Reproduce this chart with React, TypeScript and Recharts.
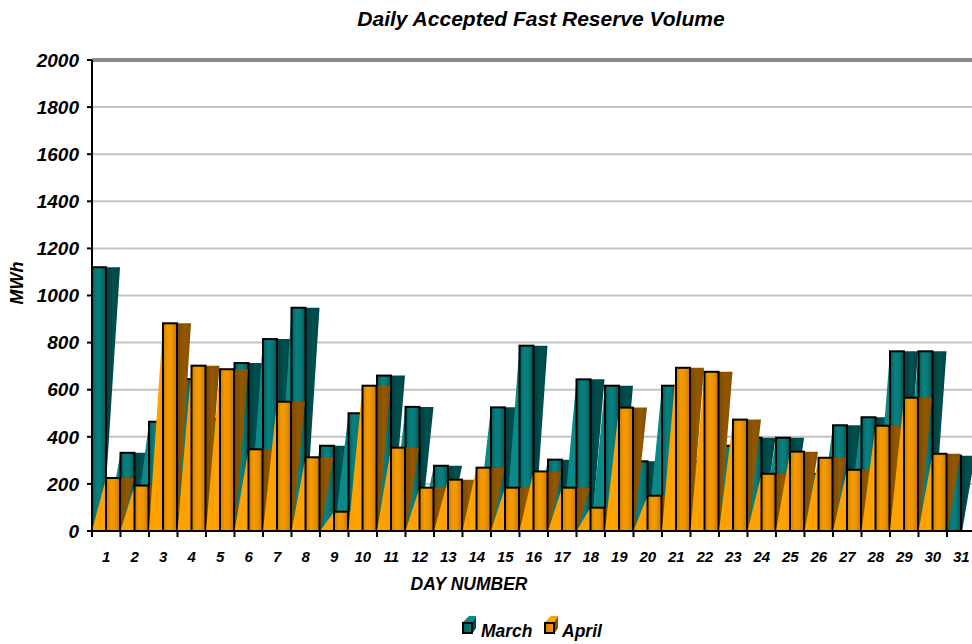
import React from 'react';
import { BarChart, Bar, XAxis, YAxis, CartesianGrid, ReferenceLine } from 'recharts';

const days = [1, 2, 3, 4, 5, 6, 7, 8, 9, 10, 11, 12, 13, 14, 15, 16, 17, 18, 19, 20, 21, 22, 23, 24, 25, 26, 27, 28, 29, 30, 31];
const marchValues = [1120, 332, 464, 645, 475, 713, 815, 948, 362, 500, 660, 527, 277, 0, 525, 787, 303, 644, 617, 296, 617, 297, 362, 396, 396, 243, 449, 483, 763, 763, 320];
const aprilValues: (number | null)[] = [225, 193, 882, 702, 687, 347, 549, 313, 82, 617, 354, 184, 218, 269, 184, 253, 184, 99, 524, 150, 693, 676, 473, 243, 337, 311, 260, 447, 566, 328, null];
const yTicks = [0, 200, 400, 600, 800, 1000, 1200, 1400, 1600, 1800, 2000];

const data = days.map((d, i) => ({ day: d, March: marchValues[i], April: aprilValues[i] }));

const FONT = 'Arial, "Liberation Sans", Helvetica, sans-serif';
const PLOT_LEFT = 92;
const CHART_W = 1000;
const CHART_H = 644;
const BAND_HALF = 14.25;

type Palette = { front: string; side: string; light: string };
const TEAL: Palette = { front: 'url(#tealFront)', side: 'url(#tealSide)', light: '#0a8989' };
const ORANGE: Palette = { front: 'url(#orangeFront)', side: 'url(#orangeSide)', light: '#ffa200' };

function make3D(p: Palette) {
  return (props: any) => {
    const { x, y, width, height } = props;
    if (height == null || !(height > 0.5) || x == null) return <g />;
    const w = width;
    const x0 = x;
    const x1 = x + w;
    const yt = y;
    const yb = y + height;
    const startX = x0 - w;
    const lx = Math.max(startX, PLOT_LEFT);
    const yAtLx = yb - ((lx - startX) / w) * (yb - yt);
    const lightPts = `${lx},${yb} ${lx},${yAtLx} ${x0},${yt} ${x0},${yb}`;
    const reach = Math.min(height, 200);
    const sidePts = `${x1},${yt} ${x1 + w},${yt} ${x1 + w * 0.08},${yt + reach} ${x1},${yt + reach} ${x1},${yb}`;
    return (
      <g>
        <polygon points={lightPts} fill={p.light} />
        <polygon points={sidePts} fill={p.side} />
        <rect x={x0} y={yt} width={w} height={height} fill={p.front} stroke="#000" strokeWidth={2} />
      </g>
    );
  };
}

function XTick(props: any) {
  const { x, y, payload } = props;
  const half = payload && payload.offset ? payload.offset : BAND_HALF;
  return (
    <g>
      <line x1={x - half} x2={x - half} y1={y} y2={y + 6} stroke="#000" strokeWidth={2} />
      <text x={x} y={y + 31} textAnchor="middle" fontSize={15} fontWeight="bold" fontStyle="italic" fontFamily={FONT} fill="#000">
        {payload.value}
      </text>
    </g>
  );
}

function LegendIcon({ x, y, front, side, light }: { x: number; y: number; front: string; side: string; light: string }) {
  return (
    <g>
      <polygon points={`${x},${y + 7} ${x + 7},${y} ${x + 14},${y} ${x + 10},${y + 7}`} fill={light} />
      <polygon points={`${x + 10},${y + 7} ${x + 14},${y} ${x + 14},${y + 12} ${x + 10},${y + 18}`} fill={side} />
      <rect x={x + 1} y={y + 7} width={9} height={10} fill={front} stroke="#000" strokeWidth={2} />
    </g>
  );
}

export default function App() {
  return (
    <div style={{ position: 'absolute', left: 0, top: 0, width: 972, height: 644, overflow: 'hidden', background: '#fff' }}>
      <BarChart
        width={CHART_W}
        height={CHART_H}
        data={data}
        margin={{ top: 60, right: 24.5, bottom: 0, left: 0 }}
        barCategoryGap={0}
        barGap={0}
      >
        <defs>
          <linearGradient id="tealFront" x1="0" y1="0" x2="1" y2="0">
            <stop offset="0" stopColor="#005c5c" />
            <stop offset="0.35" stopColor="#0a8080" />
            <stop offset="0.65" stopColor="#087a7a" />
            <stop offset="1" stopColor="#005555" />
          </linearGradient>
          <linearGradient id="tealSide" x1="0" y1="0" x2="1" y2="0">
            <stop offset="0" stopColor="#003c3c" />
            <stop offset="0.5" stopColor="#005050" />
            <stop offset="1" stopColor="#004545" />
          </linearGradient>
          <linearGradient id="orangeFront" x1="0" y1="0" x2="1" y2="0">
            <stop offset="0" stopColor="#d07c00" />
            <stop offset="0.35" stopColor="#f59a00" />
            <stop offset="0.65" stopColor="#ee9400" />
            <stop offset="1" stopColor="#c27300" />
          </linearGradient>
          <linearGradient id="orangeSide" x1="0" y1="0" x2="1" y2="0">
            <stop offset="0" stopColor="#7a4800" />
            <stop offset="0.5" stopColor="#935800" />
            <stop offset="1" stopColor="#845000" />
          </linearGradient>
        </defs>
        <CartesianGrid vertical={false} stroke="#c4c4c4" strokeWidth={2} />
        <ReferenceLine y={2000} stroke="#8a8a8a" strokeWidth={4} />
        <XAxis
          dataKey="day"
          height={113}
          axisLine={{ stroke: '#000', strokeWidth: 2 }}
          tickLine={false}
          tickSize={0}
          tickMargin={0}
          interval={0}
          tick={<XTick />}
        />
        <YAxis
          width={92}
          domain={[0, 2000]}
          ticks={yTicks}
          interval={0}
          axisLine={{ stroke: '#000', strokeWidth: 2 }}
          tickLine={{ stroke: '#000', strokeWidth: 2 }}
          tickSize={5}
          tickMargin={8}
          tick={{ fontSize: 19, fontWeight: 'bold', fontStyle: 'italic', fill: '#000', fontFamily: FONT }}
        />
        <Bar dataKey="March" isAnimationActive={false} shape={make3D(TEAL)} />
        <Bar dataKey="April" isAnimationActive={false} shape={make3D(ORANGE)} />
      </BarChart>
      <svg width={972} height={644} style={{ position: 'absolute', left: 0, top: 0, pointerEvents: 'none' }}>
        <defs>
          <linearGradient id="tealFrontL" x1="0" y1="0" x2="1" y2="0">
            <stop offset="0" stopColor="#005c5c" />
            <stop offset="1" stopColor="#0a8080" />
          </linearGradient>
          <linearGradient id="orangeFrontL" x1="0" y1="0" x2="1" y2="0">
            <stop offset="0" stopColor="#d07c00" />
            <stop offset="1" stopColor="#f59a00" />
          </linearGradient>
        </defs>
        <text x={541} y={26} textAnchor="middle" fontSize={21} fontWeight="bold" fontStyle="italic" fontFamily={FONT} fill="#000">
          Daily Accepted Fast Reserve Volume
        </text>
        <text x={0} y={0} transform="translate(23,283) rotate(-90)" textAnchor="middle" fontSize={18} fontWeight="bold" fontStyle="italic" fontFamily={FONT} fill="#000">
          MWh
        </text>
        <text x={469} y={590} textAnchor="middle" fontSize={17.5} fontWeight="bold" fontStyle="italic" fontFamily={FONT} fill="#000">
          DAY NUMBER
        </text>
        <LegendIcon x={462} y={616} front="url(#tealFrontL)" side="#004848" light="#0a8989" />
        <text x={481} y={637} fontSize={17.5} fontWeight="bold" fontStyle="italic" fontFamily={FONT} fill="#000">March</text>
        <LegendIcon x={544} y={616} front="url(#orangeFrontL)" side="#8a5200" light="#ffa200" />
        <text x={562} y={637} fontSize={17.5} fontWeight="bold" fontStyle="italic" fontFamily={FONT} fill="#000">April</text>
      </svg>
    </div>
  );
}
